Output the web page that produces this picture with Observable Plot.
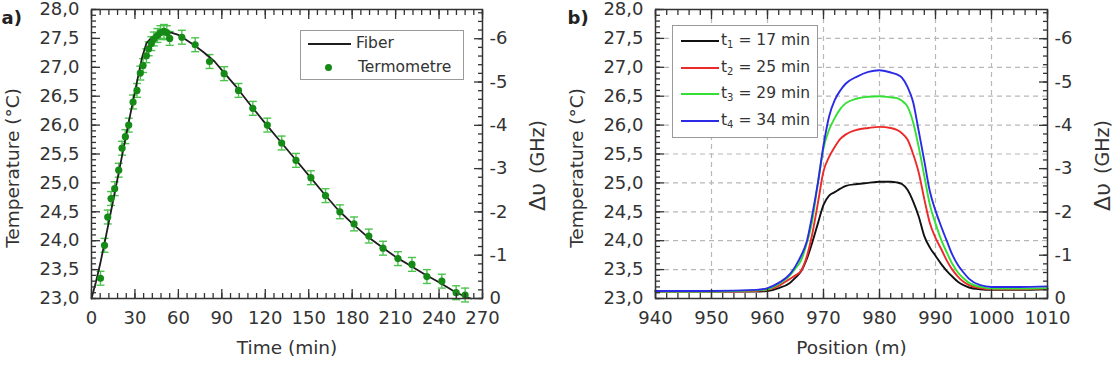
<!DOCTYPE html>
<html>
<head>
<meta charset="utf-8">
<script src="https://cdn.jsdelivr.net/npm/d3@7"></script>
<script src="https://cdn.jsdelivr.net/npm/@observablehq/plot@0.6"></script>
<style>
  body { margin: 0; background: #fff; }
  #wrap { position: relative; width: 1120px; height: 365px; display: flex; }
  .panel { position: relative; width: 560px; height: 365px; }
  .panel svg { display: block; }
  .legend { position: absolute; box-sizing: border-box; background: #fff; border: 1px solid #9a9a9a;
            font-family: "DejaVu Sans", Verdana, sans-serif; font-size: 15.5px; color: #333; }
  .legend .lbl { position: absolute; line-height: 1; transform: translateY(-50%); white-space: nowrap; }
  .legend .sw { position: absolute; height: 2px; }
  .legend .dot { position: absolute; width: 7px; height: 7px; border-radius: 50%; }
  .legend sub { font-size: 10px; vertical-align: -3px; line-height: 0; }
</style>
</head>
<body>
<div id="wrap">
  <div class="panel" id="panelA"></div>
  <div class="panel" id="panelB"></div>
</div>
<script>
// ---------- (a) temperature at the heated spot over time ----------
const fiberTime = [0, 3, 6, 10, 15, 20, 25, 30, 35, 38, 41, 45, 50, 55, 60, 65, 70, 77, 85, 90,
  100, 110, 120, 130, 140, 150, 160, 170, 180, 190, 200, 210, 220, 230, 240, 250, 258, 262];
const fiberTemp = [23.0, 23.28, 23.6, 24.08, 24.7, 25.33, 25.96, 26.58, 27.18, 27.42, 27.5, 27.57, 27.6, 27.6, 27.56, 27.48, 27.4, 27.27, 27.1, 26.95,
  26.66, 26.34, 26.03, 25.73, 25.43, 25.13, 24.83, 24.54, 24.3, 24.08, 23.9, 23.72, 23.57, 23.42, 23.28, 23.13, 23.03, 23.0];

const thermoTime = [6.2, 9.0, 11.2, 13.5, 16.0, 18.8, 21.1, 23.4, 25.7, 28.7, 31.4, 33.7, 35.6, 37.9, 39.5, 41.3, 43.0, 45.5, 47.6, 50.0, 52.0, 54.0,
  62.4, 71.6, 81.5, 91.6, 101.5, 111.4, 121.4, 131.3, 141.2, 151.5, 161.6, 171.5, 181.3, 191.5, 201.3, 211.6, 221.3, 231.6, 241.9, 251.8, 258.0];
const thermoTemp = [23.35, 23.92, 24.41, 24.73, 24.9, 25.22, 25.6, 25.8, 26.0, 26.4, 26.6, 26.9, 27.03, 27.2, 27.32, 27.41, 27.49, 27.55, 27.6, 27.62, 27.6, 27.5,
  27.52, 27.39, 27.1, 26.89, 26.6, 26.29, 26.0, 25.69, 25.39, 25.09, 24.78, 24.5, 24.29, 24.08, 23.87, 23.69, 23.59, 23.38, 23.3, 23.1, 23.06];
const thermoError = 0.12;

// ---------- (b) temperature profiles along the fiber ----------
const position = [940, 950, 958, 960, 962, 964, 965, 966, 967, 968, 969, 970, 971, 972, 973, 974, 976, 978, 980, 982,
  983, 984, 985, 986, 987, 988, 989, 990, 991, 992, 993, 994, 995, 996, 998, 1000, 1005, 1010];
const profileT1 = [23.12, 23.12, 23.12, 23.13, 23.18, 23.27, 23.36, 23.47, 23.68, 23.97, 24.3, 24.62, 24.78, 24.84, 24.9, 24.95, 24.98, 25.0, 25.02, 25.02,
  25.01, 24.98, 24.88, 24.68, 24.42, 24.08, 23.88, 23.74, 23.6, 23.48, 23.38, 23.29, 23.23, 23.19, 23.16, 23.15, 23.15, 23.16];
const profileT2 = [23.12, 23.12, 23.13, 23.15, 23.22, 23.34, 23.4, 23.48, 23.72, 24.12, 24.65, 25.2, 25.45, 25.62, 25.76, 25.84, 25.92, 25.95, 25.97, 25.95,
  25.92, 25.86, 25.75, 25.5, 25.18, 24.72, 24.3, 24.05, 23.86, 23.66, 23.5, 23.38, 23.29, 23.23, 23.18, 23.16, 23.16, 23.17];
const profileT3 = [23.12, 23.12, 23.14, 23.16, 23.25, 23.4, 23.52, 23.66, 23.95, 24.35, 25.0, 25.6, 25.92, 26.12, 26.28, 26.38, 26.46, 26.49, 26.5, 26.48,
  26.47, 26.42, 26.32, 26.05, 25.62, 25.12, 24.62, 24.3, 24.02, 23.8, 23.6, 23.45, 23.35, 23.27, 23.2, 23.17, 23.17, 23.18];
const profileT4 = [23.13, 23.13, 23.15, 23.18, 23.27, 23.42, 23.56, 23.74, 23.98, 24.45, 25.0, 25.65, 26.15, 26.43, 26.6, 26.72, 26.84, 26.92, 26.95, 26.91,
  26.88, 26.82, 26.66, 26.4, 25.9, 25.38, 24.85, 24.52, 24.25, 24.0, 23.76, 23.58, 23.45, 23.34, 23.23, 23.2, 23.2, 23.21];
const profileMinutes = [17, 25, 29, 34];
const profileColors = ["#111111", "#ec2a2a", "#33e033", "#2b2be6"];

// ---------- axes ----------
const timeTicks = [0, 30, 60, 90, 120, 150, 180, 210, 240, 270];
const positionTicks = [940, 950, 960, 970, 980, 990, 1000, 1010];
const tempTicks = [23, 23.5, 24, 24.5, 25, 25.5, 26, 26.5, 27, 27.5, 28];
const ghzTicks = [0, -1, -2, -3, -4, -5, -6];
const ghzPerDegree = 1.335;   // Brillouin shift per °C (right-hand axis)
const baseTemp = 23;

const INK = "#333";
const FONT = "DejaVu Sans, Verdana, sans-serif";
const fmtTemp = d => d.toFixed(1).replace(".", ",");
const tempOfGhz = g => baseTemp - g / ghzPerDegree;
const steps = (a, b, s) => d3.range(0, Math.round((b - a) / s) + 1).map(i => +(a + i * s).toFixed(4));

// Boxed frame with inward ticks on all four sides and a GHz scale on the right
function boxAxes(xMajor, xMinor) {
  const yMinor = steps(23, 28, 0.1);
  const gMajor = ghzTicks.map(tempOfGhz);
  const gMinor = steps(0, 6.6, 0.2).map(v => tempOfGhz(-v));
  const t = {stroke: INK, strokeWidth: 1.3, fill: "none"};
  const lab = {tickSize: 0, fill: INK, fontSize: 18, label: null};
  return [
    Plot.frame({stroke: INK, strokeWidth: 1.5}),
    Plot.axisX({...t, anchor: "bottom", ticks: xMinor, tickSize: -5}),
    Plot.axisX({...t, anchor: "bottom", ticks: xMajor, tickSize: -9}),
    Plot.axisX({...t, anchor: "top", ticks: xMinor, tickSize: -5}),
    Plot.axisX({...t, anchor: "top", ticks: xMajor, tickSize: -9}),
    Plot.axisY({...t, anchor: "left", ticks: yMinor, tickSize: -5}),
    Plot.axisY({...t, anchor: "left", ticks: tempTicks, tickSize: -9}),
    Plot.axisY({...t, anchor: "right", ticks: gMinor, tickSize: -5}),
    Plot.axisY({...t, anchor: "right", ticks: gMajor, tickSize: -9}),
    Plot.axisX({...lab, anchor: "bottom", ticks: xMajor, tickPadding: 13, tickFormat: d => String(d)}),
    Plot.axisY({...lab, anchor: "left", ticks: tempTicks, tickPadding: 12, tickFormat: fmtTemp}),
    Plot.axisY({...lab, anchor: "right", ticks: gMajor, tickPadding: 7, textAnchor: "start",
      tickFormat: d => String(Math.round((baseTemp - d) * ghzPerDegree))})
  ];
}

function titles(xTitle, panelTag, tagDx) {
  return [
    Plot.text([xTitle], {frameAnchor: "bottom", dy: 55, fontSize: 18.5, fill: INK}),
    Plot.text(["Temperature (°C)"], {frameAnchor: "left", textAnchor: "middle", rotate: -90, dx: -78, dy: 14, fontSize: 18.5, fill: INK}),
    Plot.text(["(GHz)"], {frameAnchor: "right", textAnchor: "middle", rotate: -90, dx: 55, dy: -7, fontSize: 19, fill: INK}),
    Plot.text(["Δυ"], {frameAnchor: "right", textAnchor: "middle", rotate: -90, dx: 55, dy: 43, fontSize: 22, fill: INK}),
    Plot.text([panelTag], {frameAnchor: "top-left", textAnchor: "start", dx: tagDx, dy: 2, fontSize: 18, fontWeight: "bold", fill: "#222"})
  ];
}

// horizontal cap for the error bars
const capSymbol = {draw(ctx, size) { const r = Math.sqrt(size / Math.PI); ctx.moveTo(-r, 0); ctx.lineTo(r, 0); }};

// ---------- panel (a) ----------
const fiber = fiberTime.map((t, i) => ({t, T: fiberTemp[i]}));
const thermo = thermoTime.map((t, i) => ({t, T: thermoTemp[i]}));
const barGreen = "#4cc44c", dotGreen = "#168a16";

const plotA = Plot.plot({
  width: 560, height: 365,
  marginLeft: 91, marginRight: 78, marginTop: 9, marginBottom: 67,
  x: {domain: [0, 270], label: null},
  y: {domain: [23, 28], label: null},
  style: {fontFamily: FONT, background: "transparent", overflow: "visible"},
  marks: [
    Plot.ruleX(thermo, {x: "t", y1: d => d.T - thermoError, y2: d => d.T + thermoError, stroke: barGreen, strokeWidth: 1.4}),
    Plot.dot(thermo, {x: "t", y: d => d.T + thermoError, symbol: capSymbol, r: 4, stroke: barGreen, strokeWidth: 1.4, fill: "none"}),
    Plot.dot(thermo, {x: "t", y: d => d.T - thermoError, symbol: capSymbol, r: 4, stroke: barGreen, strokeWidth: 1.4, fill: "none"}),
    Plot.line(fiber, {x: "t", y: "T", stroke: "#1e1e1e", strokeWidth: 1.8}),
    Plot.dot(thermo, {x: "t", y: "T", r: 3.6, fill: dotGreen, stroke: "none"}),
    ...boxAxes(timeTicks, steps(0, 270, 6)),
    ...titles("Time (min)", "a)", -90)
  ]
});
document.getElementById("panelA").appendChild(plotA);

// ---------- panel (b) ----------
const profiles = [profileT1, profileT2, profileT3, profileT4].flatMap((vals, s) =>
  position.map((p, i) => ({p, T: vals[i], series: s})));

const plotB = Plot.plot({
  width: 560, height: 365,
  marginLeft: 95, marginRight: 73, marginTop: 9, marginBottom: 67,
  x: {domain: [940, 1010], label: null},
  y: {domain: [23, 28], label: null},
  style: {fontFamily: FONT, background: "transparent", overflow: "visible"},
  marks: [
    Plot.gridX({ticks: positionTicks.slice(1, -1), stroke: "#b8b8b8", strokeOpacity: 1, strokeWidth: 1.2, strokeDasharray: "5,4"}),
    Plot.gridY({ticks: tempTicks.slice(1, -1), stroke: "#b8b8b8", strokeOpacity: 1, strokeWidth: 1.2, strokeDasharray: "5,4"}),
    ...profileColors.map((c, s) =>
      Plot.line(profiles.filter(d => d.series === s), {x: "p", y: "T", stroke: c, strokeWidth: 1.9, curve: "monotone-x"})),
    ...boxAxes(positionTicks, steps(940, 1010, 2)),
    ...titles("Position (m)", "b)", -88)
  ]
});
document.getElementById("panelB").appendChild(plotB);

// ---------- legends ----------
function el(tag, cls, css, html) {
  const e = document.createElement(tag);
  if (cls) e.className = cls;
  Object.assign(e.style, css);
  if (html != null) e.innerHTML = html;
  return e;
}

const legA = el("div", "legend", {left: "300px", top: "30px", width: "164px", height: "50px"});
legA.appendChild(el("div", "sw", {left: "7px", top: "12px", width: "43px", background: "#1e1e1e"}));
legA.appendChild(el("span", "lbl", {left: "55px", top: "13px"}, "Fiber"));
legA.appendChild(el("div", "dot", {left: "24px", top: "33px", background: dotGreen}));
legA.appendChild(el("span", "lbl", {left: "57px", top: "37px"}, "Termometre"));
document.getElementById("panelA").appendChild(legA);

const legB = el("div", "legend", {left: "112px", top: "25px", width: "146px", height: "113px"});
const rowY = [15, 42, 68, 95];
profileMinutes.forEach((m, i) => {
  legB.appendChild(el("div", "sw", {left: "8px", top: (rowY[i] - 1) + "px", width: "38px", background: profileColors[i]}));
  legB.appendChild(el("span", "lbl", {left: "48px", top: rowY[i] + "px"}, `t<sub>${i + 1}</sub> = ${m} min`));
});
document.getElementById("panelB").appendChild(legB);
</script>
</body>
</html>
